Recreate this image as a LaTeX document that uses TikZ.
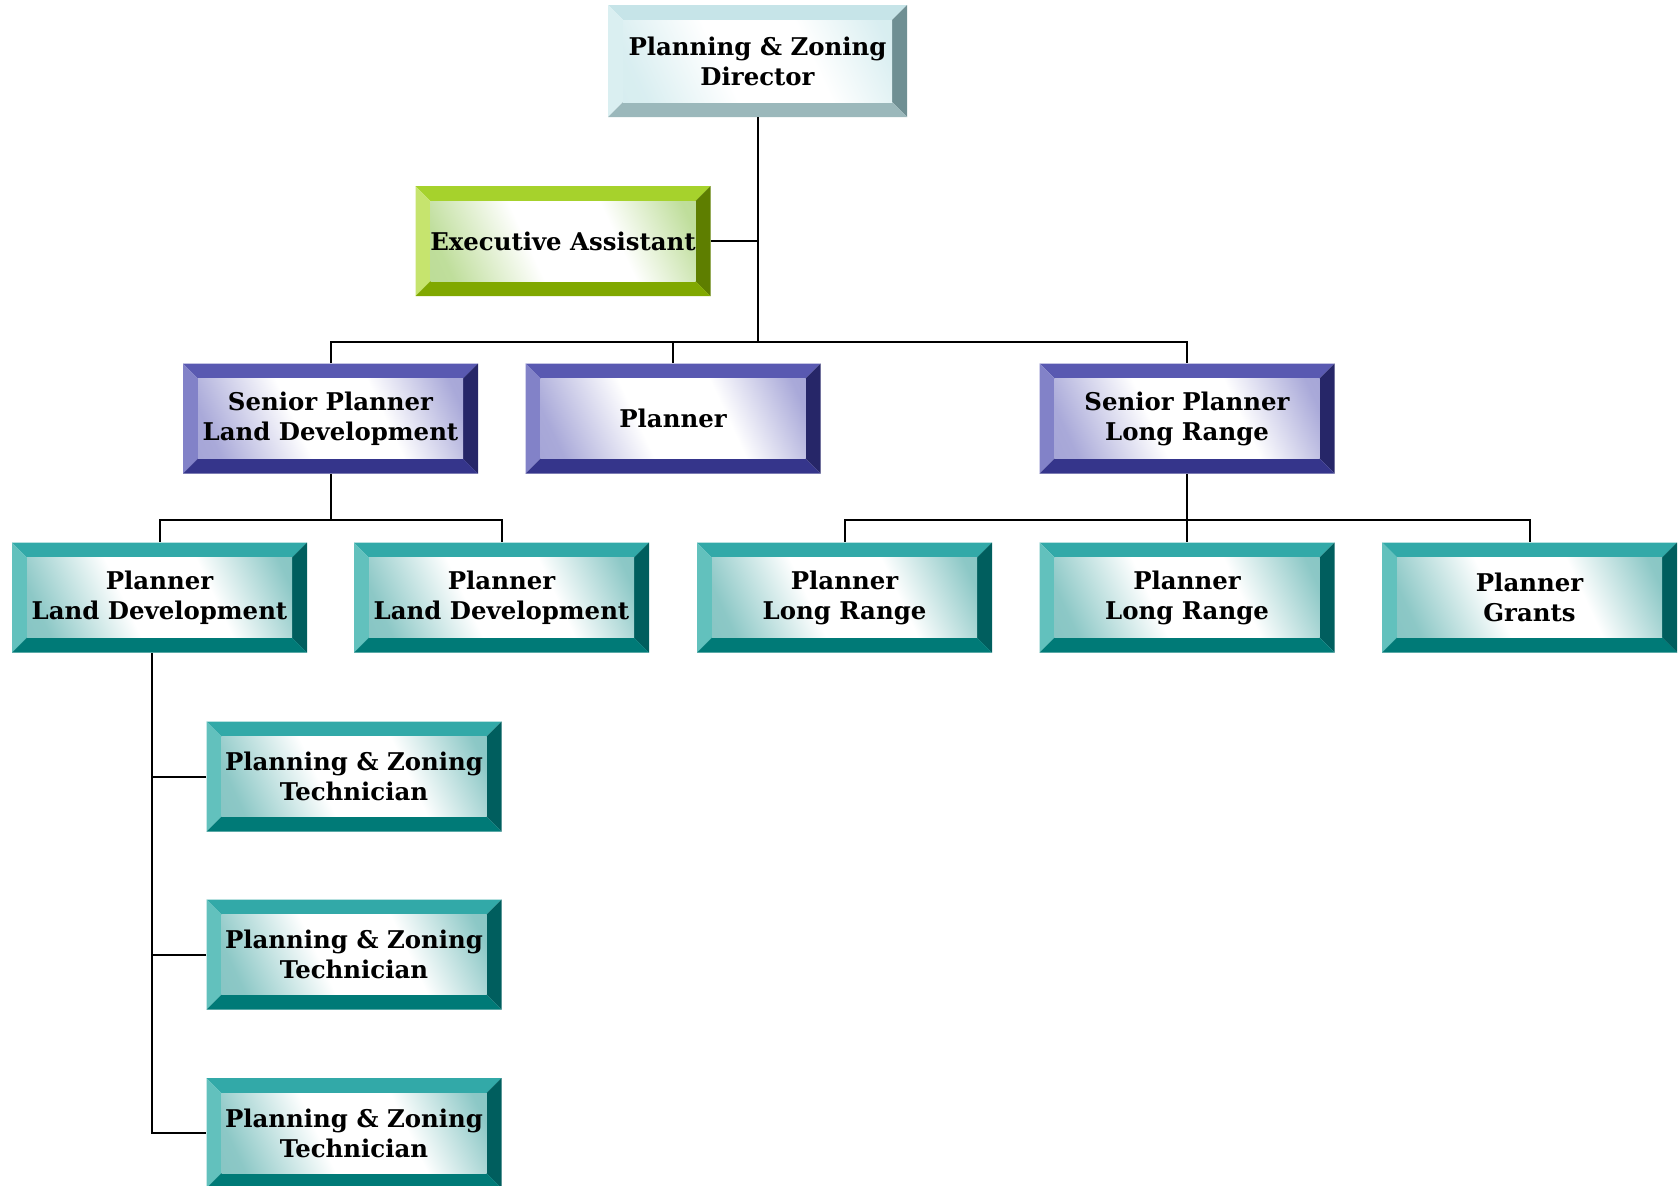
\documentclass[tikz,border=0pt]{standalone}
\usepackage{fontspec}
\setmainfont{DejaVu Serif}
\usetikzlibrary{calc}

% bevel palettes: T top, L left, R right, B bottom, C face tint
\definecolor{iceT}{HTML}{C6E4E8}
\definecolor{iceL}{HTML}{DAEFF1}
\definecolor{iceR}{HTML}{6F8F93}
\definecolor{iceB}{HTML}{9BB8BB}
\definecolor{iceC}{HTML}{D2EBEE}
\definecolor{limeT}{HTML}{A6D22C}
\definecolor{limeL}{HTML}{C6E46E}
\definecolor{limeR}{HTML}{5E7E00}
\definecolor{limeB}{HTML}{80A800}
\definecolor{limeC}{HTML}{B4D88A}
\definecolor{violetT}{HTML}{5959B1}
\definecolor{violetL}{HTML}{8282C8}
\definecolor{violetR}{HTML}{262668}
\definecolor{violetB}{HTML}{35358B}
\definecolor{violetC}{HTML}{9A9AD2}
\definecolor{tealT}{HTML}{32A9A8}
\definecolor{tealL}{HTML}{62C1BD}
\definecolor{tealR}{HTML}{005E5E}
\definecolor{tealB}{HTML}{007A77}
\definecolor{tealC}{HTML}{78BEBC}

% face gradient: tint in two opposite corners, white across the middle
\colorlet{facetint}{white}
\pgfdeclarehorizontalshading[facetint]{bevelface}{100bp}{%
  color(0bp)=(facetint); color(22bp)=(facetint!85!white);
  color(42bp)=(white); color(62bp)=(white);
  color(80bp)=(facetint!85!white); color(100bp)=(facetint)}

\newcommand\bevw{7.5pt}
\newcommand\bevelfill[1]{%
  \coordinate (bsw) at (path picture bounding box.south west);
  \coordinate (bne) at (path picture bounding box.north east);
  \coordinate (bnw) at (bsw |- bne);
  \coordinate (bse) at (bne |- bsw);
  \coordinate (isw) at ([shift={(\bevw,\bevw)}]bsw);
  \coordinate (ine) at ([shift={(-\bevw,-\bevw)}]bne);
  \coordinate (inw) at ([shift={(\bevw,-\bevw)}]bnw);
  \coordinate (ise) at ([shift={(-\bevw,\bevw)}]bse);
  \fill[#1T] (bnw) -- (bne) -- (ine) -- (inw) -- cycle;
  \fill[#1L] (bnw) -- (bsw) -- (isw) -- (inw) -- cycle;
  \fill[#1R] (bne) -- (bse) -- (ise) -- (ine) -- cycle;
  \fill[#1B] (bsw) -- (bse) -- (ise) -- (isw) -- cycle;
  \colorlet{facetint}{#1C}%
  \shade[shading=bevelface, shading angle=25] (isw) rectangle (ine);
}

\tikzset{
  box/.style={minimum width=147.5pt, minimum height=55pt, inner sep=0pt,
    align=center, font=\bfseries\fontsize{12.2}{15}\selectfont,
    path picture={\bevelfill{#1}}},
  conn/.style={draw=black, line width=1pt}
}

\begin{document}
\begin{tikzpicture}[x=0.5pt,y=-0.5pt]
\useasboundingbox (0,0) rectangle (1679,1185);

% top level
\node[box=ice, minimum width=149.5pt, minimum height=56pt] (dir) at (757.5,61) {Planning \& Zoning\\Director};
\node[box=lime] (ea) at (563,241) {Executive Assistant};

% senior level
\node[box=violet] (spld) at (330.5,418.5) {Senior Planner\\Land Development};
\node[box=violet] (pl)   at (673,418.5)   {Planner};
\node[box=violet] (splr) at (1187,418.5)  {Senior Planner\\Long Range};

% planners
\node[box=teal] (pld1) at (159.5,597.5)  {Planner\\Land Development};
\node[box=teal] (pld2) at (501.5,597.5)  {Planner\\Land Development};
\node[box=teal] (plr1) at (844.5,597.5)  {Planner\\Long Range};
\node[box=teal] (plr2) at (1187,597.5)   {Planner\\Long Range};
\node[box=teal] (pg)   at (1529.5,597.5) {Planner\\Grants};

% technicians
\node[box=teal] (t1) at (354,776.5) {Planning \& Zoning\\Technician};
\node[box=teal] (t2) at (354,954.5) {Planning \& Zoning\\Technician};
\node[box=teal] (t3) at (354,1133)  {Planning \& Zoning\\Technician};

% connectors
\draw[conn] (dir.south) -- ++(0,225) coordinate (bus1);
\draw[conn] (ea.east) -- (ea.east -| dir.south);
\draw[conn] (spld.north) |- (bus1) -| (splr.north);
\draw[conn] (pl.north) -- (pl.north |- bus1);

\draw[conn] (spld.south) -- ++(0,46) coordinate (bus2);
\draw[conn] (pld1.north) |- (bus2) -| (pld2.north);

\draw[conn] (splr.south) -- (plr2.north);
\coordinate (bus3) at ([yshift=-23pt]splr.south);
\draw[conn] (plr1.north) |- (bus3) -| (pg.north);

\coordinate (drop) at ([xshift=-3.75pt]pld1.south);
\draw[conn] (drop) |- (t3.west);
\draw[conn] (t1.west) -- (t1.west -| drop);
\draw[conn] (t2.west) -- (t2.west -| drop);
\end{tikzpicture}
\end{document}
